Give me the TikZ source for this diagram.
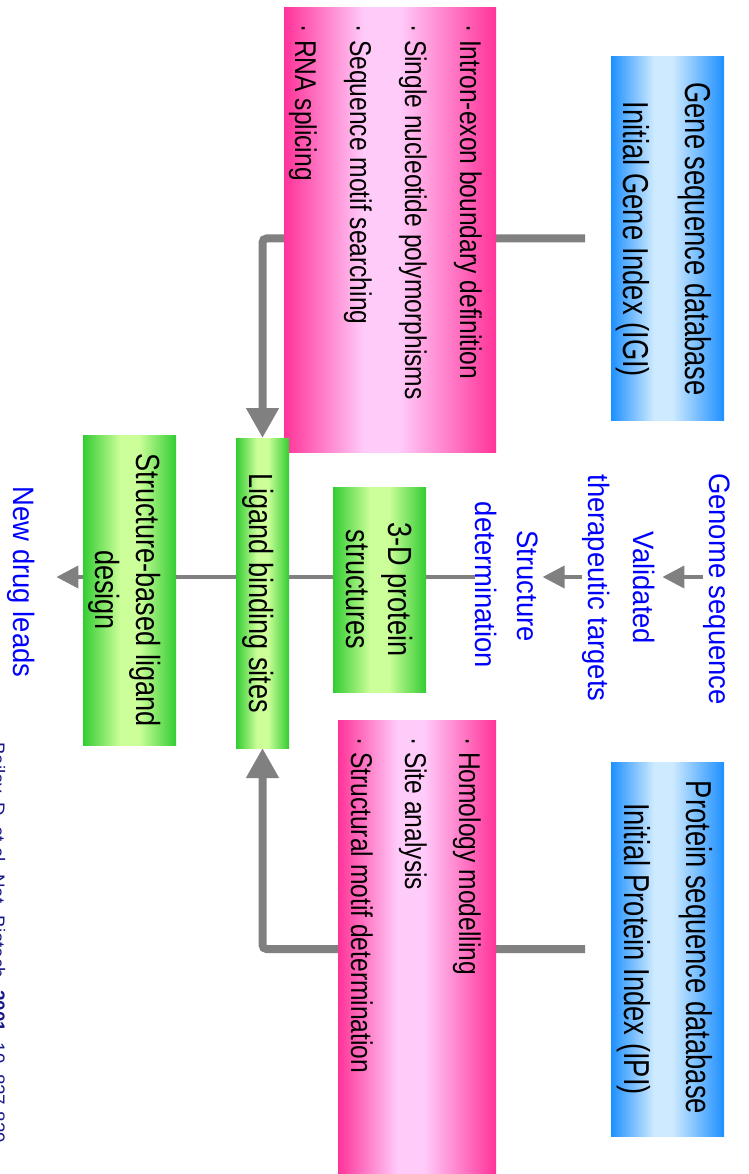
\documentclass[tikz,border=0pt]{standalone}
\usepackage{fontspec}
\setmainfont{Liberation Sans}
\newfontfamily\dbfont[FakeStretch=0.76]{Liberation Sans}
\newfontfamily\itemfont[FakeStretch=0.82]{Liberation Sans}
\newfontfamily\stagefont[FakeStretch=0.81]{Liberation Sans}
\newfontfamily\stepfont[FakeStretch=0.93]{Liberation Sans}
\usetikzlibrary{arrows.meta,shadings}
\definecolor{dbDark}{RGB}{30,144,255}
\definecolor{dbLight}{RGB}{206,234,255}
\definecolor{pkDark}{RGB}{255,51,153}
\definecolor{pkLight}{RGB}{255,204,250}
\definecolor{grDark}{RGB}{51,204,51}
\definecolor{grLight}{RGB}{204,255,153}
\definecolor{flow}{RGB}{128,128,128}
\definecolor{stepblue}{RGB}{0,0,255}
\definecolor{citenavy}{RGB}{24,24,140}
% left-to-right colour bands of the panels (25bp..75bp spans the panel)
\pgfdeclarehorizontalshading{dbband}{100bp}{color(0bp)=(dbDark); color(25bp)=(dbDark); color(44bp)=(dbLight); color(52bp)=(dbLight); color(75bp)=(dbDark); color(100bp)=(dbDark)}
\pgfdeclarehorizontalshading{pkband}{100bp}{color(0bp)=(pkDark); color(25bp)=(pkDark); color(44bp)=(pkLight); color(52bp)=(pkLight); color(75bp)=(pkDark); color(100bp)=(pkDark)}
\pgfdeclarehorizontalshading{grband}{100bp}{color(0bp)=(grDark); color(25bp)=(grDark); color(45bp)=(grLight); color(55bp)=(grLight); color(75bp)=(grDark); color(100bp)=(grDark)}
\pgfdeclarelayer{background}
\pgfsetlayers{background,main}
\begin{document}
\begin{tikzpicture}[x=1pt,y=-1pt,
  panel/.style={shade, draw=none, inner sep=0pt, outer sep=0pt},
  bluebox/.style={panel, shading=dbband},
  pinkbox/.style={panel, shading=pkband},
  greenbox/.style={panel, shading=grband},
  rot/.style={rotate=-90, inner sep=0pt, outer sep=0pt, anchor=base},
  dbtext/.style={rot, font=\dbfont\fontsize{36pt}{40pt}\selectfont},
  itemtext/.style={rot, anchor=base west, font=\itemfont\fontsize{30pt}{34pt}\selectfont},
  stagetext/.style={rot, font=\stagefont\fontsize{33.5pt}{38pt}\selectfont},
  steptext/.style={rot, text=stepblue, font=\stepfont\fontsize{29.5pt}{34pt}\selectfont},
  citetext/.style={rot, anchor=base east, text=citenavy, font=\fontsize{18.8pt}{22pt}\selectfont},
  flowline/.style={draw=flow, line width=4pt},
  flowarrow/.style={flowline, -{Triangle[width=22pt,length=22pt]}},
  feedarrow/.style={draw=flow, line width=8pt, rounded corners=4pt, -{Triangle[width=31pt,length=30pt]}},
]
\useasboundingbox (0,0) rectangle (748,1174);

% database panels
\node[bluebox, minimum width=113pt, minimum height=363pt] (gene) at (667.5,238.5) {};
\node[bluebox, minimum width=113pt, minimum height=374pt] (prot) at (667.5,949) {};
% analysis panels
\node[pinkbox, minimum width=212pt, minimum height=444pt] (gtools) at (390,230) {};
\node[pinkbox, minimum width=158pt, minimum height=454pt] (ptools) at (417,947) {};
% pipeline stages
\node[greenbox, minimum width=93pt, minimum height=205pt] (p3d) at (379.5,589.5) {};
\node[greenbox, minimum width=53pt, minimum height=310pt] (lig) at (262.5,593) {};
\node[greenbox, minimum width=93pt, minimum height=310pt] (sbld) at (129.5,590) {};

% panel texts
\node[dbtext] (geneA) at (685,239) {Gene sequence database};
\node[dbtext] (geneB) at (623,239.5) {Initial Gene Index (IGI)};
\node[dbtext] (protA) at (686,947.5) {Protein sequence database};
\node[dbtext] (protB) at (624,949) {Initial Protein Index (IPI)};

\node[itemtext] (g1) at (460,25) {· Intron-exon boundary definition};
\node[itemtext] (g2) at (405,25) {· Single nucleotide polymorphisms};
\node[itemtext] (g3) at (350,25) {· Sequence motif searching};
\node[itemtext] (g4) at (295,25) {· RNA splicing};
\node[itemtext] (p1) at (459,737) {· Homology modelling};
\node[itemtext] (p2) at (405,737) {· Site analysis};
\node[itemtext] (p3) at (351,737) {· Structural motif determination};

\node[stagetext] (ligT) at (249.5,593) {Ligand binding sites};
\node[stagetext] (sbA) at (136.7,590) {Structure-based ligand};
\node[stagetext] (sbB) at (95,590) {design};
\node[stagetext] (p3A) at (388,589.5) {3-D protein};
\node[stagetext] (p3B) at (346,589.5) {structures};

% pipeline step labels
\node[steptext] (gs) at (709,589) {Genome sequence};
\node[steptext] (vtA) at (633,588) {Validated};
\node[steptext] (vtB) at (588,588) {therapeutic targets};
\node[steptext] (sdA) at (517,586) {Structure};
\node[steptext] (sdB) at (475,585) {determination};
\node[steptext] (leads) at (13,582) {New drug leads};

\node[citetext] (ref) at (-8.5,1143) {Bailey, D. et al. Nat. Biotech. \textbf{2001}, 19, 827-829};

% connectors
\coordinate (ax) at (0,577);
\begin{pgfonlayer}{background}
  \draw[flowarrow, shorten >=8pt] (gs.south |- ax) -- (vtA.north |- ax);
  \draw[flowarrow, shorten >=5pt] (vtB.south |- ax) -- (sdA.north |- ax);
  \draw[flowline] (sdB.south |- ax) -- (p3d.east |- ax);
  \draw[flowline] (p3d.west |- ax) -- (lig.east |- ax);
  \draw[flowline] (lig.west |- ax) -- (sbld.east |- ax);
  \draw[flowarrow, shorten >=22pt] (sbld.west |- ax) -- (leads.north |- ax);
  \draw[feedarrow, shorten <=26pt] (gene.west) -| (lig.north);
  \draw[feedarrow, shorten <=26pt] (prot.west) -| (lig.south);
\end{pgfonlayer}
\end{tikzpicture}
\end{document}
